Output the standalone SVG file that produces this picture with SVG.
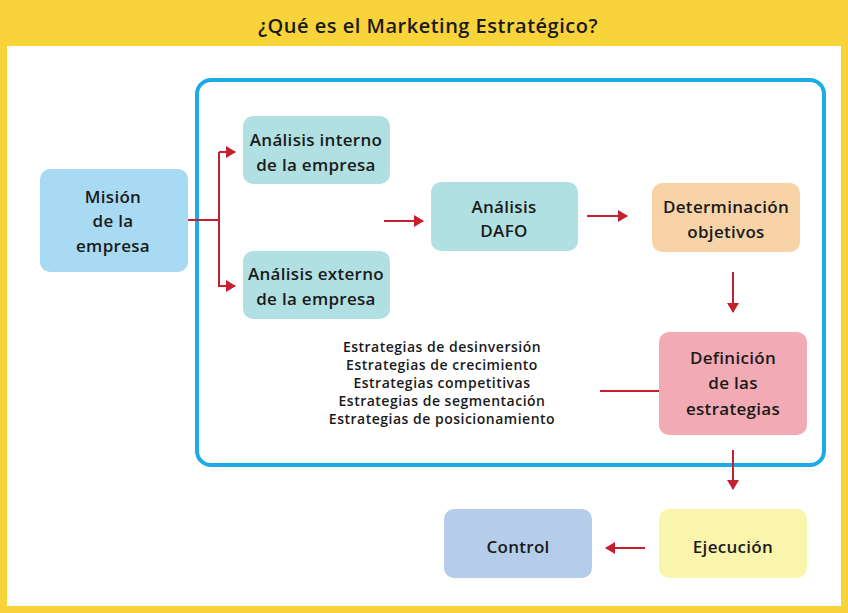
<svg xmlns="http://www.w3.org/2000/svg" width="848" height="613" viewBox="0 0 848 613">
<defs>
<style>
.t{font-family:"Open Sans","Liberation Sans",sans-serif;font-weight:600;fill:#1a1a1a;text-anchor:middle}
.n{font-size:17px;letter-spacing:0.3px}
.s{font-size:14px;letter-spacing:0.5px}
.c{stroke:#C4202F;stroke-width:2;fill:none}
</style>
<marker id="ah" viewBox="0 0 10 12" refX="9" refY="6" markerWidth="10" markerHeight="12" markerUnits="userSpaceOnUse" orient="auto">
<path d="M0,0 L10,6 L0,12 Z" fill="#C4202F"/>
</marker>
</defs>
<rect x="0" y="0" width="848" height="613" fill="#F8D33A"/>
<rect x="7" y="46" width="834" height="560" fill="#FFFFFF"/>
<text class="t" x="428" y="33" font-size="20" letter-spacing="0.5">¿Qué es el Marketing Estratégico?</text>
<rect x="197" y="80" width="627" height="385" rx="14" fill="none" stroke="#1BACE6" stroke-width="4"/>
<g id="connectors">
<path class="c" d="M188,220 H219 M219,152 V287"/>
<path class="c" d="M219,152 H235" marker-end="url(#ah)"/>
<path class="c" d="M219,286 H235" marker-end="url(#ah)"/>
<path class="c" d="M384,221 H423" marker-end="url(#ah)"/>
<path class="c" d="M587,216 H627" marker-end="url(#ah)"/>
<path class="c" d="M733,272 V312" marker-end="url(#ah)"/>
<path class="c" d="M600,391 H659"/>
<path class="c" d="M733,450 V489" marker-end="url(#ah)"/>
<path class="c" d="M645,548 H606" marker-end="url(#ah)"/>
</g>
<g id="mision">
<rect x="40" y="169" width="148" height="103" rx="10" fill="#A8DAF4"/>
<text class="t n" x="113" y="203">Misión</text>
<text class="t n" x="113" y="227">de la</text>
<text class="t n" x="113" y="252">empresa</text>
</g>
<g id="interno">
<rect x="243" y="116" width="147" height="68" rx="10" fill="#B0E0E1"/>
<text class="t n" x="316" y="146">Análisis interno</text>
<text class="t n" x="316" y="171">de la empresa</text>
</g>
<g id="externo">
<rect x="243" y="251" width="147" height="68" rx="10" fill="#B0E0E1"/>
<text class="t n" x="316" y="280">Análisis externo</text>
<text class="t n" x="316" y="305">de la empresa</text>
</g>
<g id="dafo">
<rect x="431" y="182" width="147" height="69" rx="10" fill="#B0E0E1"/>
<text class="t n" x="504" y="213">Análisis</text>
<text class="t n" x="504" y="237">DAFO</text>
</g>
<g id="objetivos">
<rect x="652" y="183" width="148" height="69" rx="10" fill="#F8D3A8"/>
<text class="t n" x="726" y="213">Determinación</text>
<text class="t n" x="726" y="238">objetivos</text>
</g>
<g id="estrategias">
<rect x="659" y="332" width="148" height="103" rx="10" fill="#F2AAB4"/>
<text class="t n" x="733" y="364">Definición</text>
<text class="t n" x="733" y="389">de las</text>
<text class="t n" x="733" y="415">estrategias</text>
</g>
<g id="lista">
<text class="t s" x="442" y="352">Estrategias de desinversión</text>
<text class="t s" x="442" y="370">Estrategias de crecimiento</text>
<text class="t s" x="442" y="388">Estrategias competitivas</text>
<text class="t s" x="442" y="406">Estrategias de segmentación</text>
<text class="t s" x="442" y="424">Estrategias de posicionamiento</text>
</g>
<g id="ejecucion">
<rect x="659" y="509" width="148" height="69" rx="10" fill="#FAF5AC"/>
<text class="t n" x="733" y="553">Ejecución</text>
</g>
<g id="control">
<rect x="444" y="509" width="148" height="69" rx="10" fill="#B5CDEA"/>
<text class="t n" x="518" y="553">Control</text>
</g>
</svg>
